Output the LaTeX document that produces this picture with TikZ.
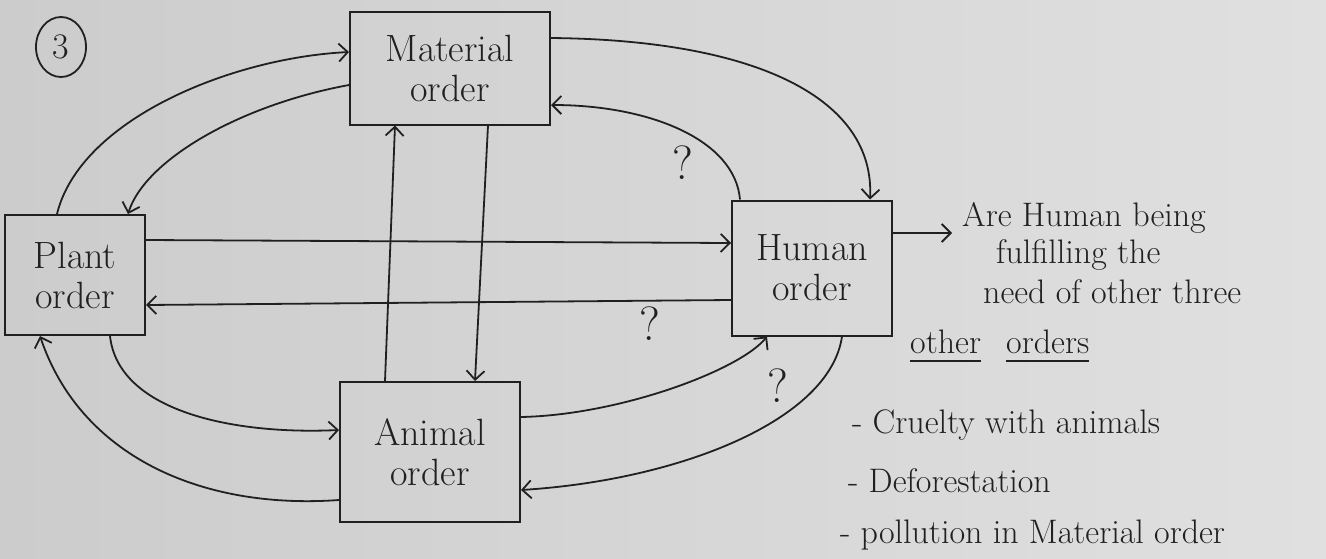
\documentclass[tikz,border=0pt]{standalone}
\usetikzlibrary{arrows.meta,shapes.geometric,calc}
\definecolor{ink}{RGB}{32,32,32}
\definecolor{paperL}{RGB}{204,204,204}
\definecolor{paperR}{RGB}{224,224,224}
\begin{document}
\begin{tikzpicture}[x=1pt,y=1pt,
  order/.style={draw=ink, line width=2pt, rectangle, inner sep=0pt, align=center,
    font=\fontsize{38}{40}\selectfont, text=ink},
  link/.style={draw=ink, line width=1.8pt,
    -{Straight Barb[length=9pt,width=18pt,line width=1.8pt]}},
  note/.style={anchor=base west, inner sep=0pt, font=\fontsize{34}{38}\selectfont, text=ink},
  query/.style={font=\fontsize{48}{50}\selectfont, text=ink, inner sep=0pt},
  uline/.style={draw=ink, line width=1.8pt},
]
\useasboundingbox (0,0) rectangle (1326,-558);
\fill[left color=paperL, right color=paperR] (0,0) rectangle (1326,-558);

% sheet number
\node[ellipse, draw=ink, line width=1.8pt, minimum width=50, minimum height=60,
  inner sep=0pt, font=\fontsize{36}{38}\selectfont, text=ink] (num) at (61,-47) {3};

% the four orders
\node[order, minimum width=200, minimum height=113] (mat)    at (450,-68)  {Material\\order};
\node[order, minimum width=140, minimum height=120] (plant)  at (75,-275)  {Plant\\order};
\node[order, minimum width=160, minimum height=135] (human)  at (812,-268) {Human\\order};
\node[order, minimum width=180, minimum height=140] (animal) at (430,-452) {Animal\\order};

% plant <-> material
\draw[link] ([xshift=-18pt]plant.north) .. controls (80,-120) and (230,-58) .. ([yshift=16pt]mat.west);
\draw[link] ([yshift=-17pt]mat.west) .. controls (240,-105) and (145,-160) .. ([xshift=53pt]plant.north);

% material <-> human
\draw[link] ([yshift=30pt]mat.east) .. controls (760,-40) and (875,-100) .. ([xshift=58pt]human.north);
\draw[link] ([xshift=-72pt]human.north) .. controls (735,-140) and (650,-105) .. ([yshift=-37pt]mat.east);

% plant <-> human
\draw[link] ([yshift=35pt]plant.east) -- ([yshift=25pt]human.west);
\draw[link] ([yshift=-32pt]human.west) -- ([yshift=-30pt]plant.east);

% material <-> animal
\draw[link] ([xshift=-45pt]animal.north) -- ([xshift=-55pt]mat.south);
\draw[link] ([xshift=38pt]mat.south) -- ([xshift=45pt]animal.north);

% plant <-> animal
\draw[link] ([xshift=35pt]plant.south) .. controls (118,-410) and (230,-435) .. ([yshift=22pt]animal.west);
\draw[link] ([yshift=-48pt]animal.west) .. controls (200,-510) and (80,-455) .. ([xshift=-35pt]plant.south);

% animal <-> human
\draw[link] ([yshift=35pt]animal.east) .. controls (620,-415) and (740,-370) .. ([xshift=-45pt]human.south);
\draw[link] ([xshift=30pt]human.south) .. controls (830,-420) and (680,-480) .. ([yshift=-38pt]animal.east);

% open questions
\node[query] (q1) at (683,-163) {?};
\node[query] (q2) at (650,-324) {?};
\node[query] (q3) at (778,-386) {?};

% remarks on the human order
\node[note] (n1) at (962,-226) {Are Human being};
\node[note] (n2) at (996,-263) {fulfilling the};
\node[note] (n3) at (983,-303) {need of other three};
\node[note] (n4a) at (910,-353) {other};
\node[note] (n4b) at (1006,-353) {orders};
\draw[link] ([yshift=35pt]human.east) -- ([xshift=-10pt,yshift=-7pt]n1.base west);
\draw[uline] ([yshift=-8pt]n4a.base west) -- ([yshift=-8pt]n4a.base east);
\draw[uline] ([yshift=-8pt]n4b.base west) -- ([yshift=-8pt]n4b.base east);

\node[note] (b1) at (852,-433) {- Cruelty with animals};
\node[note] (b2) at (848,-492) {- Deforestation};
\node[note] (b3) at (840,-543) {- pollution in Material order};
\end{tikzpicture}
\end{document}
